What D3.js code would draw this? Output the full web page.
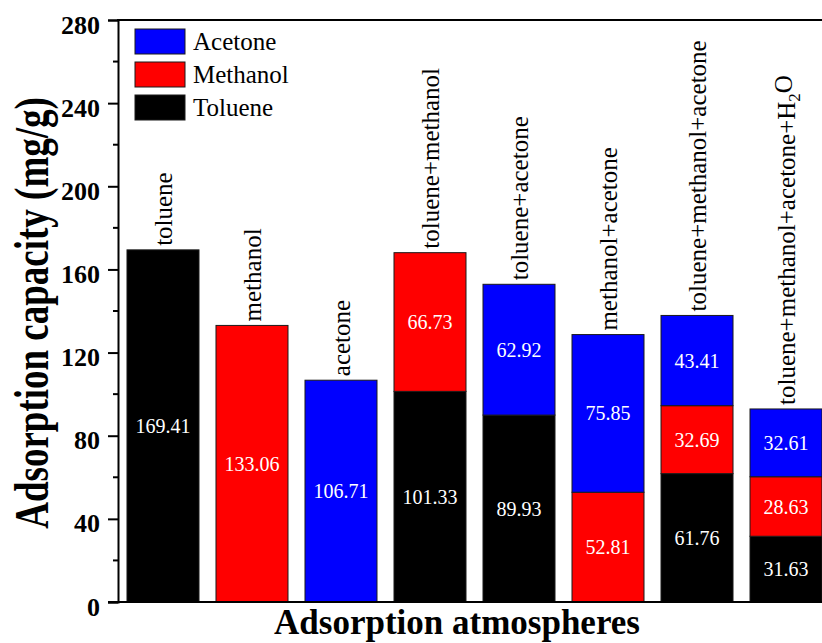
<!DOCTYPE html>
<html>
<head>
<meta charset="utf-8">
<script src="https://cdn.jsdelivr.net/npm/d3@7"></script>
<style>
  html, body { margin: 0; padding: 0; background: #fff; }
  svg { display: block; font-family: "Liberation Serif", "Times New Roman", serif; }
</style>
</head>
<body>
<svg id="chart" width="822" height="643"></svg>
<script>
// Adsorption capacity (mg/g) of each component under different atmospheres
const categories = [
  "toluene", "methanol", "acetone", "toluene+methanol", "toluene+acetone",
  "methanol+acetone", "toluene+methanol+acetone", "toluene+methanol+acetone+H2O"
];
const toluene  = [169.41, 0, 0, 101.33, 89.93, 0, 61.76, 31.63];
const methanol = [0, 133.06, 0, 66.73, 0, 52.81, 32.69, 28.63];
const acetone  = [0, 0, 106.71, 0, 62.92, 75.85, 43.41, 32.61];
const seriesNames = ["Toluene", "Methanol", "Acetone"];
const seriesColors = ["#000000", "#ff0000", "#0000ff"];
const majorTicks = [0, 40, 80, 120, 160, 200, 240, 280];
const minorTicks = [20, 60, 100, 140, 180, 220, 260];

const svg = d3.select("#chart");
const W = 822, H = 643;
const plotLeft = 118, plotTop = 20, plotBottom = 602;

const rows = categories.map((c, i) => ({
  cat: c, Toluene: toluene[i], Methanol: methanol[i], Acetone: acetone[i]
}));

const x = d3.scaleBand().domain(categories).range([plotLeft, 831])
  .paddingInner(0.191).paddingOuter(0.101);
const y = d3.scaleLinear().domain([0, 280]).range([plotBottom, plotTop]);
const color = d3.scaleOrdinal().domain(seriesNames).range(seriesColors);

const stacked = d3.stack().keys(seriesNames)(rows);

// stacked bars
const layers = svg.append("g").selectAll("g").data(stacked).join("g")
  .attr("fill", d => color(d.key));
layers.selectAll("rect").data(d => d.filter(s => s[1] - s[0] > 0)).join("rect")
  .attr("x", d => x(d.data.cat))
  .attr("width", x.bandwidth())
  .attr("y", d => y(d[1]))
  .attr("height", d => y(d[0]) - y(d[1]))
  .attr("stroke", "#1a1a1a").attr("stroke-width", 1);

// segment values
layers.selectAll("text").data(d => d.filter(s => s[1] - s[0] > 0)).join("text")
  .attr("x", d => x(d.data.cat) + x.bandwidth() / 2)
  .attr("y", d => y((d[0] + d[1]) / 2))
  .attr("dy", "0.35em")
  .attr("text-anchor", "middle")
  .attr("fill", "#fff")
  .attr("font-size", 20)
  .text(d => (d[1] - d[0]).toFixed(2));

// category labels, rotated above each bar
const totals = rows.map(r => r.Toluene + r.Methanol + r.Acetone);
const catLabels = svg.append("g").selectAll("text").data(categories).join("text")
  .attr("transform", (c, i) => `translate(${x(c) + x.bandwidth() / 2},${y(totals[i]) - 4}) rotate(-90)`)
  .attr("dy", "0.35em")
  .attr("font-size", 25)
  .attr("fill", "#000");
catLabels.each(function(c) {
  const t = d3.select(this);
  const parts = c.split(/(\d+)/).filter(p => p.length);
  let sub = false;
  parts.forEach(p => {
    if (/^\d+$/.test(p)) {
      t.append("tspan").attr("dy", "0.3em").attr("font-size", 17).text(p);
      sub = true;
    } else {
      const s = t.append("tspan").text(p);
      if (sub) { s.attr("dy", "-0.3em"); sub = false; }
    }
  });
});

// axes
const yAxis = d3.axisLeft(y).tickValues(majorTicks).tickSize(10).tickPadding(8)
  .tickFormat(d3.format("d"));
const ga = svg.append("g").attr("transform", `translate(${plotLeft},0)`).call(yAxis);
ga.select(".domain").attr("stroke", "#000").attr("stroke-width", 2);
ga.selectAll(".tick line").attr("stroke", "#000").attr("stroke-width", 2);
ga.selectAll(".tick text")
  .attr("font-family", "Liberation Serif, serif")
  .attr("font-weight", "bold").attr("font-size", 26).attr("fill", "#000")
  .attr("dy", "0.5em");
svg.append("g").selectAll("line").data(minorTicks).join("line")
  .attr("x1", plotLeft - 5).attr("x2", plotLeft)
  .attr("y1", d => y(d)).attr("y2", d => y(d))
  .attr("stroke", "#000").attr("stroke-width", 2);

// frame lines
svg.append("line").attr("x1", plotLeft - 1).attr("x2", W).attr("y1", y(280)).attr("y2", y(280))
  .attr("stroke", "#000").attr("stroke-width", 2);
svg.append("line").attr("x1", plotLeft - 10).attr("x2", W).attr("y1", y(0)).attr("y2", y(0))
  .attr("stroke", "#000").attr("stroke-width", 2);

// axis titles (the vertical title uses wide, heavy glyphs)
svg.append("text")
  .attr("transform", "translate(48,313) rotate(-90) scale(1,1.3)")
  .attr("text-anchor", "middle").attr("font-weight", "bold").attr("font-size", 37)
  .text("Adsorption capacity (mg/g)");
svg.append("text")
  .attr("x", 457).attr("y", 634)
  .attr("text-anchor", "middle").attr("font-weight", "bold").attr("font-size", 35)
  .text("Adsorption atmospheres");

// legend
const legendOrder = ["Acetone", "Methanol", "Toluene"];
const lg = svg.append("g").selectAll("g").data(legendOrder).join("g")
  .attr("transform", (d, i) => `translate(135,${29 + i * 33})`);
lg.append("rect").attr("width", 50).attr("height", 25)
  .attr("fill", d => color(d)).attr("stroke", "#1a1a1a").attr("stroke-width", 1);
lg.append("text").attr("x", 58).attr("y", 21).attr("font-size", 25).text(d => d);
</script>
</body>
</html>
